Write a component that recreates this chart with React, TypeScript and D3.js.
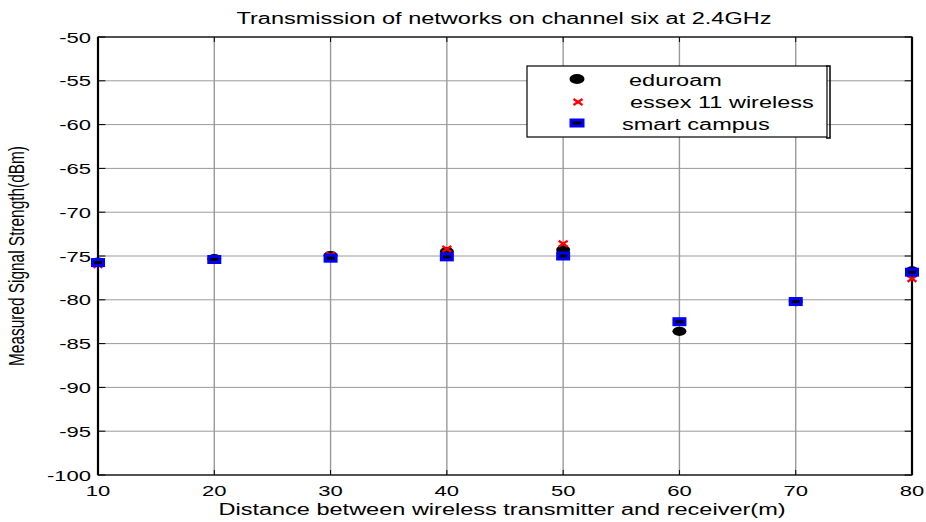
import React from "react";
import * as d3 from "d3";

const distances = [10, 20, 30, 40, 50, 60, 70, 80];
const eduroam = [-75.7, -75.3, -74.95, -74.5, -74.3, -83.6, -80.2, -76.7];
const essex = [-76.0, -75.4, -74.9, -74.2, -73.6, -82.5, -80.2, -77.6];
const smartCampus = [-75.75, -75.4, -75.25, -75.1, -75.0, -82.5, -80.2, -76.85];
const xTicks = [10, 20, 30, 40, 50, 60, 70, 80];
const yTicks = [-100, -95, -90, -85, -80, -75, -70, -65, -60, -55, -50];
const legendLabels = ["eduroam", "essex 11 wireless", "smart campus"];
const titleText = "Transmission of networks on channel six at 2.4GHz";
const xLabelText = "Distance between wireless transmitter and receiver(m)";
const yLabelText = "Measured Signal Strength(dBm)";

const W = 926;
const H = 522;
const S = 1.47;
const FONT = "'Liberation Sans', Arial, sans-serif";

const L = 98, R = 912, T = 37, B = 475;

function Circle({ cx, cy }: { cx: number; cy: number }) {
  return <ellipse cx={cx} cy={cy} rx={7} ry={4.6} fill="#000" />;
}
function Cross({ cx, cy }: { cx: number; cy: number }) {
  const dx = 4.5, dy = 3;
  return (
    <g stroke="#ff0000" strokeWidth={2.2}>
      <line x1={cx - dx} y1={cy - dy} x2={cx + dx} y2={cy + dy} />
      <line x1={cx - dx} y1={cy + dy} x2={cx + dx} y2={cy - dy} />
    </g>
  );
}
function Square({ cx, cy }: { cx: number; cy: number }) {
  const w = 11, h = 6;
  return (
    <rect x={cx - w / 2} y={cy - h / 2} width={w} height={h} fill="#000" stroke="#0000ff" strokeWidth={3} />
  );
}

function SText({ x, y, anchor = "start", size = 16, children }: any) {
  return (
    <text
      transform={`translate(${x},${y}) scale(${S},1)`}
      textAnchor={anchor}
      fontSize={size}
      fontFamily={FONT}
      fill="#000"
    >
      {children}
    </text>
  );
}

export default function App() {
  const x = d3.scaleLinear().domain([10, 80]).range([L, R]);
  const y = d3.scaleLinear().domain([-100, -50]).range([B, T]);
  const tl = 5;

  return (
    <svg width={W} height={H} style={{ display: "block", position: "absolute", left: 0, top: 0 }}>
      <rect x={0} y={0} width={W} height={H} fill="#fff" />
      <rect x={L} y={T} width={R - L} height={B - T} fill="#fff" />
      {/* grid */}
      <g stroke="#9a9a9a" strokeWidth={1}>
        {xTicks.map((t) => (
          <line key={"gx" + t} x1={x(t)} x2={x(t)} y1={T} y2={B} strokeWidth={1.4} />
        ))}
        {yTicks.map((t) => (
          <line key={"gy" + t} x1={L} x2={R} y1={y(t)} y2={y(t)} />
        ))}
      </g>
      {/* ticks */}
      <g stroke="#000" strokeWidth={1}>
        {xTicks.map((t) => (
          <g key={"tx" + t}>
            <line x1={x(t)} x2={x(t)} y1={B} y2={B - tl} />
            <line x1={x(t)} x2={x(t)} y1={T} y2={T + tl} />
          </g>
        ))}
        {yTicks.map((t) => (
          <g key={"ty" + t}>
            <line x1={L} x2={L + tl * S} y1={y(t)} y2={y(t)} />
            <line x1={R} x2={R - tl * S} y1={y(t)} y2={y(t)} />
          </g>
        ))}
      </g>
      {/* box */}
      <rect x={L} y={T} width={R - L} height={B - T} fill="none" stroke="#000" strokeWidth={1.2} />
      <line x1={L} x2={L} y1={T} y2={B} stroke="#000" strokeWidth={2.2} />
      <line x1={R} x2={R} y1={T} y2={B} stroke="#000" strokeWidth={2.2} />
      {/* tick labels */}
      {xTicks.map((t) => (
        <SText key={"lx" + t} x={x(t)} y={496} anchor="middle" size={15}>
          {t}
        </SText>
      ))}
      {yTicks.map((t) => (
        <SText key={"ly" + t} x={91} y={y(t) + 5.5} anchor="end" size={15}>
          {t}
        </SText>
      ))}
      {/* data */}
      {distances.map((d, i) => (
        <Circle key={"e" + i} cx={x(d)} cy={y(eduroam[i])} />
      ))}
      {distances.map((d, i) => (
        <Cross key={"s" + i} cx={x(d)} cy={y(essex[i])} />
      ))}
      {distances.map((d, i) => (
        <Square key={"q" + i} cx={x(d)} cy={y(smartCampus[i])} />
      ))}
      {/* legend */}
      <rect x={527} y={66} width={300} height={71} fill="#fff" stroke="#000" strokeWidth={1.2} />
      <path d="M826,66 H830 V138 H826" fill="none" stroke="#000" strokeWidth={1.5} />
      <ellipse cx={577} cy={79} rx={7.5} ry={5} fill="#000" />
      <Cross cx={578} cy={102} />
      <rect x={571} y={120} width={12} height={6} fill="#000" stroke="#0000ff" strokeWidth={3} />
      <SText x={629} y={86} size={16}>{legendLabels[0]}</SText>
      <SText x={630} y={108} size={16}>{legendLabels[1]}</SText>
      <SText x={622} y={130} size={16}>{legendLabels[2]}</SText>
      {/* title & labels */}
      <SText x={504} y={24} anchor="middle" size={16}>{titleText}</SText>
      <SText x={502} y={515} anchor="middle" size={16}>{xLabelText}</SText>
      <text
        transform={`translate(24,256) scale(${S},1) rotate(-90)`}
        textAnchor="middle"
        fontSize={15.4}
        fontFamily={FONT}
        fill="#000"
      >
        {yLabelText}
      </text>
    </svg>
  );
}
